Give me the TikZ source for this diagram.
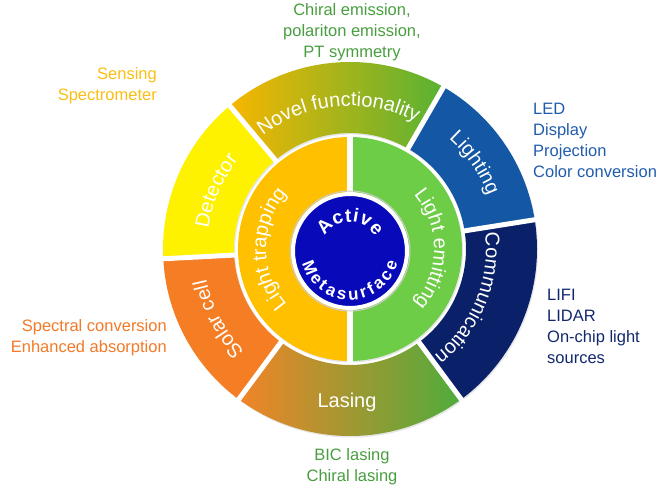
\documentclass[tikz,border=0pt]{standalone}
\usepackage{fontspec}
\setmainfont{Liberation Sans}
\usetikzlibrary{decorations.text, shadows}

\definecolor{lightingblue}{RGB}{20,88,165}
\definecolor{commblue}{RGB}{10,32,105}
\definecolor{detectyellow}{RGB}{255,242,0}
\definecolor{solarorange}{RGB}{245,125,35}
\definecolor{novelleft}{RGB}{247,182,0}
\definecolor{novelright}{RGB}{88,178,52}
\definecolor{laseleft}{RGB}{242,132,40}
\definecolor{laseright}{RGB}{78,172,60}
\definecolor{trapgold}{RGB}{255,192,0}
\definecolor{emitgreen}{RGB}{110,205,70}
\definecolor{coreblue}{RGB}{8,10,185}
\definecolor{notegreen}{RGB}{72,158,62}
\definecolor{notegold}{RGB}{250,190,20}
\definecolor{noteorange}{RGB}{242,122,40}
\definecolor{noteblue}{RGB}{32,92,172}
\definecolor{notenavy}{RGB}{18,40,110}

\newcommand{\ringtext}{\color{white}\fontsize{20}{20}\selectfont}
\newcommand{\coretext}{\color{white}\bfseries\fontsize{19}{19}\selectfont}
\newcommand{\coresmall}{\color{white}\bfseries\fontsize{17}{17}\selectfont}

\tikzset{
  notetext/.style={font=\fontsize{16.5}{21}\selectfont, align=#1, inner sep=0pt},
  ringlabel/.style={decorate, decoration={text along path, text align=center, text={|\ringtext|#1}}},
  corelabel/.style={decorate, decoration={text along path, text align=fit to path, text={#1}}},
  gap/.style={white, line width=5pt},
  soft/.style={drop shadow={shadow xshift=1pt, shadow yshift=-1.5pt, opacity=0.2}}
}

\begin{document}
\begin{tikzpicture}[x=1pt, y=1pt]
\useasboundingbox (-350,-240) rectangle (316,249);

\foreach \a/\b/\c in {9/60/lightingblue, 130/183/detectyellow, 183/233.5/solarorange, 306.5/369/commblue}
  \fill[\c, soft] (\a:187) arc[start angle=\a, end angle=\b, radius=187] -- (\b:116) arc[start angle=\b, end angle=\a, radius=116] -- cycle;
\shade[left color=novelleft, right color=novelright, soft] (60:187) arc[start angle=60, end angle=130, radius=187] -- (130:116) arc[start angle=130, end angle=60, radius=116] -- cycle;
\shade[left color=laseleft, right color=laseright, soft] (233.5:187) arc[start angle=233.5, end angle=306.5, radius=187] -- (306.5:116) arc[start angle=306.5, end angle=233.5, radius=116] -- cycle;
\foreach \a in {9,60,130,183,233.5,306.5}
  \draw[gap] (\a:110) -- (\a:192);

\fill[trapgold, soft] (0,112) arc[start angle=90, end angle=270, radius=112] -- (0,-112) -- cycle;
\fill[emitgreen, soft] (0,-112) arc[start angle=-90, end angle=90, radius=112] -- (0,112) -- cycle;
\draw[gap, line width=6pt] (0,115) -- (0,-115);
\node (core) [circle, fill=coreblue, draw=white, line width=4pt, minimum size=114pt] at (0,-2) {};
\draw[black!20, line width=1pt] (core.center) circle[radius=60];

\path[ringlabel=Novel functionality] (128:143) arc[start angle=128, end angle=62, radius=143];
\path[ringlabel=Lighting] (57:148) arc[start angle=57, end angle=12, radius=148];
\path[ringlabel=Detector] (180:143) arc[start angle=180, end angle=133, radius=143];
\path[ringlabel=Solar cell] (231:147) arc[start angle=231, end angle=185, radius=147];
\path[ringlabel=Communication] (367:136) arc[start angle=367, end angle=308, radius=136];
\node (lasing) [font=\fontsize{20}{20}\selectfont, text=white] at (-3,-153) {Lasing};
\path[ringlabel=Light trapping] (235:84) arc[start angle=235, end angle=125, radius=84];
\path[ringlabel=Light emitting] (55:84) arc[start angle=55, end angle=-55, radius=84];
\path[corelabel=|\coretext|Active] ([shift={(150:29)}]core.center) arc[start angle=150, end angle=30, radius=29];
\path[corelabel=|\coresmall|Metasurface] ([shift={(194:49)}]core.center) arc[start angle=194, end angle=346, radius=49];

\node (emitnote) [notetext=center, text=notegreen] at (2,217) {Chiral emission,\\polariton emission,\\PT symmetry};
\node (detectnote) [notetext=right, text=notegold, anchor=east] at (-193,163) {Sensing\\Spectrometer};
\node (solarnote) [notetext=right, text=noteorange, anchor=east] at (-183,-89) {Spectral conversion\\Enhanced absorption};
\node (lasenote) [notetext=center, text=notegreen] at (2,-218) {BIC lasing\\Chiral lasing};
\node (lightnote) [notetext=left, text=noteblue, anchor=west] at (183,109) {LED\\Display\\Projection\\Color conversion};
\node (commnote) [notetext=left, text=notenavy, anchor=west] at (197,-77) {LIFI\\LIDAR\\On-chip light\\sources};

\end{tikzpicture}
\end{document}
